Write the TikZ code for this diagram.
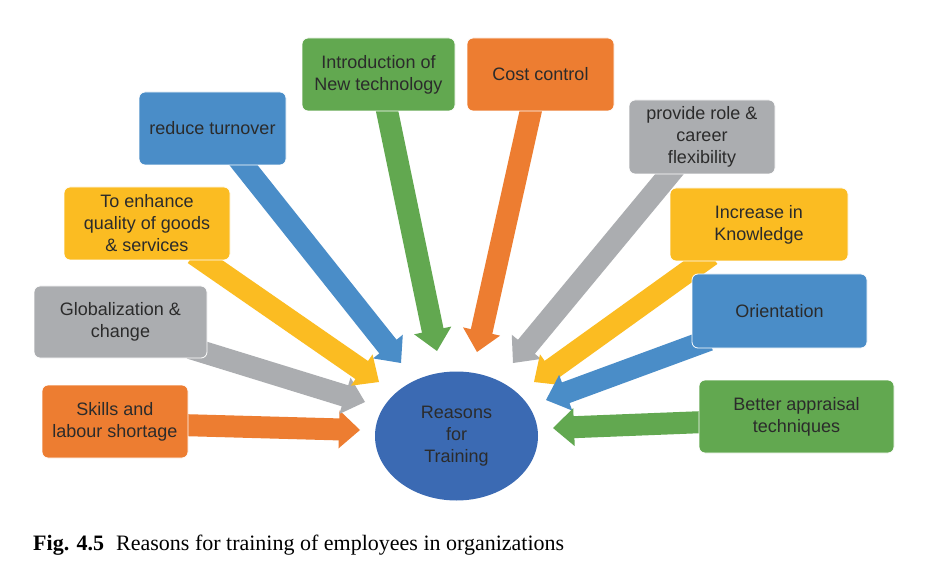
\documentclass[tikz,border=0pt]{standalone}
\usepackage{fontspec}
\setmainfont{Liberation Sans}
\newfontfamily\capfont{Liberation Serif}
\usetikzlibrary{calc,shapes.geometric}
\definecolor{cgreen}{HTML}{62A850}
\definecolor{corange}{HTML}{ED7D31}
\definecolor{cblue}{HTML}{4A8DC8}
\definecolor{cgrey}{HTML}{ABADB0}
\definecolor{cyellow}{HTML}{FBBC22}
\definecolor{ccircle}{HTML}{3B6AB3}
\definecolor{ctext}{HTML}{2B2B2B}
\tikzset{
  box/.style={rectangle, rounded corners=6pt, draw=white, line width=0.8pt,
    align=center, text=ctext, font=\fontsize{18}{22}\selectfont, inner sep=0pt},
}
\newcommand\blockarr[3]{%
  \coordinate (hb) at ($(#3)!21pt!(#2)$);
  \draw[#1, line width=22pt] (#2) -- ($(#3)!18pt!(#2)$);
  \fill[#1] (#3) -- ($(hb)!19pt!90:(#3)$) -- ($(hb)!19pt!-90:(#3)$) -- cycle;
}
\begin{document}
\begin{tikzpicture}[x=1pt,y=-1pt]
\useasboundingbox (0,0) rectangle (927,580);
\fill[white] (0,0) rectangle (927,580);
% arrow ends
\coordinate (sSkill) at (180,425);   \coordinate (tSkill) at (360,430);
\coordinate (sGlob) at (190,348);    \coordinate (tGlob) at (365,402);
\coordinate (sEnh) at (194,254);     \coordinate (tEnh) at (379,382);
\coordinate (sTurn) at (237,157);    \coordinate (tTurn) at (401,363);
\coordinate (sIntro) at (385,101);   \coordinate (tIntro) at (437,351);
\coordinate (sCost) at (533,101);    \coordinate (tCost) at (477,352);
\coordinate (sRole) at (677,165);    \coordinate (tRole) at (513,363);
\coordinate (sKnow) at (711,255);    \coordinate (tKnow) at (534,382);
\coordinate (sOri) at (709,340);     \coordinate (tOri) at (546,400);
\coordinate (sAppr) at (705,422);    \coordinate (tAppr) at (553,428);
% arrows
\blockarr{corange}{sSkill}{tSkill}
\blockarr{cgrey}{sGlob}{tGlob}
\blockarr{cyellow}{sEnh}{tEnh}
\blockarr{cblue}{sTurn}{tTurn}
\blockarr{cgreen}{sIntro}{tIntro}
\blockarr{corange}{sCost}{tCost}
\blockarr{cgrey}{sRole}{tRole}
\blockarr{cyellow}{sKnow}{tKnow}
\blockarr{cblue}{sOri}{tOri}
\blockarr{cgreen}{sAppr}{tAppr}
% boxes
\node[box, fill=cgreen, minimum width=153pt, minimum height=73pt] (intro) at (378.5,74.5) {Introduction of\\New technology};
\node[box, fill=corange, minimum width=147pt, minimum height=73pt] (cost) at (540.5,74.5) {Cost control};
\node[box, fill=cblue, minimum width=147pt, minimum height=73pt] (turn) at (212.5,128.5) {reduce turnover};
\node[box, fill=cgrey, minimum width=146pt, minimum height=74pt] (role) at (702,137) {provide role \&\\career\\flexibility};
\node[box, fill=cyellow, minimum width=166pt, minimum height=73pt] (enh) at (147,223.5) {To enhance\\quality of goods\\\& services};
\node[box, fill=cyellow, minimum width=178pt, minimum height=73pt] (know) at (759,224.5) {Increase in\\Knowledge};
\node[box, fill=cgrey, minimum width=173pt, minimum height=72pt] (glob) at (120.5,322) {Globalization \&\\change};
\node[box, fill=cblue, minimum width=175pt, minimum height=74pt] (ori) at (779.5,311) {Orientation};
\node[box, fill=corange, minimum width=146pt, minimum height=73pt] (skill) at (115,421.5) {Skills and\\labour shortage};
\node[box, fill=cgreen, minimum width=195pt, minimum height=73pt] (appr) at (796.5,416.5) {Better appraisal\\techniques};
% centre
\node[ellipse, fill=ccircle, minimum width=163pt, minimum height=129pt, inner sep=0pt,
  align=center, text=ctext, font=\fontsize{18}{22}\selectfont] (rft) at (456.5,436) {Reasons\\for\\Training};
% caption
\node[anchor=base west, inner sep=0pt, text=black, font=\capfont\fontsize{22}{26}\selectfont] (cap) at (33,550)
  {\textbf{Fig. 4.5}\hspace{0.55em}Reasons for training of employees in organizations};
\end{tikzpicture}
\end{document}
